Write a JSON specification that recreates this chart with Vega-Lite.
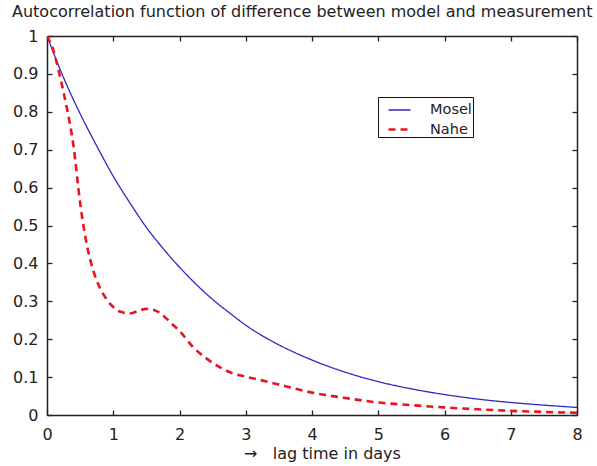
{
  "$schema": "https://vega.github.io/schema/vega-lite/v6.json",
  "width": 530,
  "height": 379,
  "autosize": {"type": "none"},
  "padding": {"left": 47, "top": 36, "right": 20, "bottom": 51},
  "background": "white",
  "title": {
    "text": "Autocorrelation function of difference between model and measurement",
    "anchor": "start",
    "frame": "group",
    "dx": -35,
    "dy": 21,
    "offset": 16,
    "baseline": "alphabetic",
    "font": "DejaVu Sans",
    "fontSize": 16,
    "fontWeight": "normal",
    "color": "#222222"
  },
  "config": {
    "view": {"stroke": null},
    "axis": {
      "domainColor": "#222222",
      "domainWidth": 1.5,
      "tickColor": "#222222",
      "tickWidth": 1.3,
      "tickSize": -5,
      "grid": false,
      "labelFont": "DejaVu Sans",
      "labelFontSize": 16,
      "labelColor": "#222222",
      "titleFont": "DejaVu Sans",
      "titleFontSize": 16,
      "titleFontWeight": "normal",
      "titleColor": "#222222"
    },
    "legend": {
      "title": null, "orient": "none", "legendX": 331, "legendY": 61,
      "strokeColor": "#111111", "fillColor": "white", "padding": 1,
      "symbolType": "stroke", "symbolSize": 484, "symbolOffset": 8,
      "labelFont": "DejaVu Sans", "labelFontSize": 14.5, "labelColor": "#222222",
      "rowPadding": -5, "labelOffset": 18
    }
  },
  "data": {
    "values": [
      {"lag": 0, "acf": 1.0, "river": "Mosel"},
      {"lag": 0.25, "acf": 0.89, "river": "Mosel"},
      {"lag": 0.5, "acf": 0.795, "river": "Mosel"},
      {"lag": 0.75, "acf": 0.71, "river": "Mosel"},
      {"lag": 1.0, "acf": 0.63, "river": "Mosel"},
      {"lag": 1.25, "acf": 0.56, "river": "Mosel"},
      {"lag": 1.5, "acf": 0.495, "river": "Mosel"},
      {"lag": 1.75, "acf": 0.44, "river": "Mosel"},
      {"lag": 2.0, "acf": 0.39, "river": "Mosel"},
      {"lag": 2.25, "acf": 0.345, "river": "Mosel"},
      {"lag": 2.5, "acf": 0.305, "river": "Mosel"},
      {"lag": 2.75, "acf": 0.27, "river": "Mosel"},
      {"lag": 3.0, "acf": 0.237, "river": "Mosel"},
      {"lag": 3.5, "acf": 0.185, "river": "Mosel"},
      {"lag": 4.0, "acf": 0.145, "river": "Mosel"},
      {"lag": 4.5, "acf": 0.113, "river": "Mosel"},
      {"lag": 5.0, "acf": 0.088, "river": "Mosel"},
      {"lag": 5.5, "acf": 0.069, "river": "Mosel"},
      {"lag": 6.0, "acf": 0.054, "river": "Mosel"},
      {"lag": 6.5, "acf": 0.042, "river": "Mosel"},
      {"lag": 7.0, "acf": 0.033, "river": "Mosel"},
      {"lag": 7.5, "acf": 0.026, "river": "Mosel"},
      {"lag": 8.0, "acf": 0.02, "river": "Mosel"},
      {"lag": 0, "acf": 1.0, "river": "Nahe"},
      {"lag": 0.1, "acf": 0.96, "river": "Nahe"},
      {"lag": 0.2, "acf": 0.89, "river": "Nahe"},
      {"lag": 0.3, "acf": 0.81, "river": "Nahe"},
      {"lag": 0.4, "acf": 0.71, "river": "Nahe"},
      {"lag": 0.5, "acf": 0.56, "river": "Nahe"},
      {"lag": 0.6, "acf": 0.45, "river": "Nahe"},
      {"lag": 0.7, "acf": 0.38, "river": "Nahe"},
      {"lag": 0.8, "acf": 0.335, "river": "Nahe"},
      {"lag": 0.9, "acf": 0.305, "river": "Nahe"},
      {"lag": 1.0, "acf": 0.285, "river": "Nahe"},
      {"lag": 1.1, "acf": 0.273, "river": "Nahe"},
      {"lag": 1.25, "acf": 0.268, "river": "Nahe"},
      {"lag": 1.4, "acf": 0.276, "river": "Nahe"},
      {"lag": 1.5, "acf": 0.28, "river": "Nahe"},
      {"lag": 1.6, "acf": 0.278, "river": "Nahe"},
      {"lag": 1.7, "acf": 0.27, "river": "Nahe"},
      {"lag": 1.8, "acf": 0.255, "river": "Nahe"},
      {"lag": 1.9, "acf": 0.238, "river": "Nahe"},
      {"lag": 2.0, "acf": 0.222, "river": "Nahe"},
      {"lag": 2.2, "acf": 0.18, "river": "Nahe"},
      {"lag": 2.4, "acf": 0.15, "river": "Nahe"},
      {"lag": 2.6, "acf": 0.127, "river": "Nahe"},
      {"lag": 2.8, "acf": 0.11, "river": "Nahe"},
      {"lag": 3.0, "acf": 0.101, "river": "Nahe"},
      {"lag": 3.3, "acf": 0.089, "river": "Nahe"},
      {"lag": 3.6, "acf": 0.076, "river": "Nahe"},
      {"lag": 4.0, "acf": 0.059, "river": "Nahe"},
      {"lag": 4.5, "acf": 0.045, "river": "Nahe"},
      {"lag": 5.0, "acf": 0.033, "river": "Nahe"},
      {"lag": 5.5, "acf": 0.026, "river": "Nahe"},
      {"lag": 6.0, "acf": 0.02, "river": "Nahe"},
      {"lag": 6.5, "acf": 0.015, "river": "Nahe"},
      {"lag": 7.0, "acf": 0.011, "river": "Nahe"},
      {"lag": 7.5, "acf": 0.008, "river": "Nahe"},
      {"lag": 8.0, "acf": 0.006, "river": "Nahe"}
    ]
  },
  "resolve": {"axis": {"x": "independent", "y": "independent"}},
  "layer": [
    {
      "mark": {"type": "line", "interpolate": "monotone", "clip": true},
      "encoding": {
        "x": {
          "field": "lag", "type": "quantitative",
          "scale": {"domain": [0, 8], "nice": false},
          "axis": {"orient": "bottom", "values": [0, 1, 2, 3, 4, 5, 6, 7, 8], "labelPadding": 16, "title": "→\u00a0\u00a0 lag time in days", "titlePadding": 3, "titleX": 275, "titleAlign": "center", "labelFlush": false}
        },
        "y": {
          "field": "acf", "type": "quantitative",
          "scale": {"domain": [0, 1], "nice": false},
          "axis": {"orient": "left", "values": [0, 0.1, 0.2, 0.3, 0.4, 0.5, 0.6, 0.7, 0.8, 0.9, 1], "format": "~g", "labelPadding": 14, "title": null, "labelFlush": false}
        },
        "color": {
          "field": "river", "type": "nominal",
          "scale": {"domain": ["Mosel", "Nahe"], "range": ["#2b2bc4", "#e8141e"]},
          "legend": {"title": null}
        },
        "strokeDash": {
          "field": "river", "type": "nominal",
          "scale": {"domain": ["Mosel", "Nahe"], "range": [[1, 0], [7, 5]]},
          "legend": {"title": null}
        },
        "strokeWidth": {
          "field": "river", "type": "nominal",
          "scale": {"domain": ["Mosel", "Nahe"], "range": [1.3, 2.6]},
          "legend": {"title": null}
        }
      }
    },
    {
      "mark": {"type": "point", "opacity": 0},
      "encoding": {
        "x": {
          "field": "lag", "type": "quantitative",
          "scale": {"domain": [0, 8], "nice": false},
          "axis": {"orient": "top", "values": [0, 1, 2, 3, 4, 5, 6, 7, 8], "labels": false, "title": null}
        },
        "y": {
          "field": "acf", "type": "quantitative",
          "scale": {"domain": [0, 1], "nice": false},
          "axis": {"orient": "right", "values": [0, 0.1, 0.2, 0.3, 0.4, 0.5, 0.6, 0.7, 0.8, 0.9, 1], "labels": false, "title": null}
        }
      }
    }
  ]
}
